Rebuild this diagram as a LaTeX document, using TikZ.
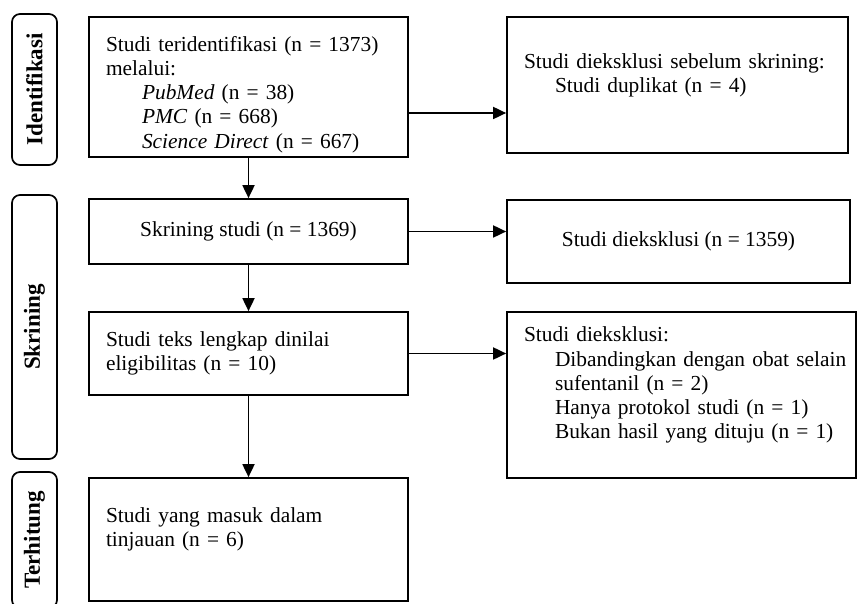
\documentclass[tikz,border=0pt]{standalone}
\usepackage{fontspec}
\setmainfont{Liberation Serif}
\usetikzlibrary{arrows.meta}

\begin{document}
\begin{tikzpicture}[x=0.5pt, y=-0.5pt,
  font=\fontsize{10.7}{12.1}\selectfont,
  box/.style={draw, line width=0.85pt, inner xsep=8.5pt, inner ysep=0pt},
  phase/.style={draw, line width=0.85pt, rounded corners=4pt, rotate=90,
    minimum height=22.5pt, inner sep=0pt, font=\fontsize{11.5}{12}\selectfont\bfseries},
  arr/.style={line width=0.9pt, -{Triangle[length=6.5pt, width=6pt]}}]
  \clip (0,0) rectangle (858,604);

  \node[phase, minimum width=75.5pt] (idf) at (34.5, 89.5) {Identifikasi};
  \node[phase, minimum width=132pt] (skr) at (34.5, 327) {Skrining};
  \node[phase, minimum width=68pt] (ter) at (34.5, 540) {Terhitung};

  \node[box, text width=142.5pt, minimum height=70pt, align=left] (found) at (248.5, 87)
    {\rule{0pt}{15pt}\mbox{Studi teridentifikasi (n = 1373)}\\ melalui:\\
     \hspace*{18pt}\textit{PubMed} (n = 38)\\
     \hspace*{18pt}\textit{PMC} (n = 668)\\
     \hspace*{18pt}\mbox{\textit{Science Direct} (n = 667)}};
  \node[box, minimum width=159.5pt, minimum height=32.5pt] (screen) at (248.5, 231.5)
    {Skrining studi (n = 1369)};
  \node[box, text width=142.5pt, minimum height=41.5pt, align=left] (full) at (248.5, 353.5)
    {Studi teks lengkap dinilai\\ eligibilitas (n = 10)};
  \node[box, text width=142.5pt, minimum height=61.5pt, align=left] (incl) at (248.5, 539.5)
    {Studi yang masuk dalam\\ tinjauan (n = 6)\\ \mbox{}};

  \node[box, text width=153.5pt, minimum height=68pt, align=left] (dup) at (677.5, 85)
    {\mbox{Studi dieksklusi sebelum skrining:}\\ \hspace*{15.5pt}\mbox{Studi duplikat (n = 4)}\\ \mbox{}};
  \node[box, minimum width=171.5pt, minimum height=41.5pt] (exc) at (678.5, 241.5)
    {Studi dieksklusi (n = 1359)};
  \node[box, text width=157.5pt, minimum height=83pt, align=left] (excf) at (681.5, 395)
    {Studi dieksklusi:\\
     \hspace*{15.5pt}\mbox{Dibandingkan dengan obat selain}\\
     \hspace*{15.5pt}\mbox{sufentanil (n = 2)}\\
     \hspace*{15.5pt}\mbox{Hanya protokol studi (n = 1)}\\
     \hspace*{15.5pt}\mbox{Bukan hasil yang dituju (n = 1)}\\ \mbox{}};

  \draw[arr] (found) -- (screen);
  \draw[arr] (screen) -- (full);
  \draw[arr] (full) -- (incl);
  \draw[arr] ([yshift=-13pt]found.east) -- ([yshift=-13pt]found.east -| dup.west);
  \draw[arr] (screen.east) -- (screen.east -| exc.west);
  \draw[arr] (full.east) -- (full.east -| excf.west);
\end{tikzpicture}
\end{document}
